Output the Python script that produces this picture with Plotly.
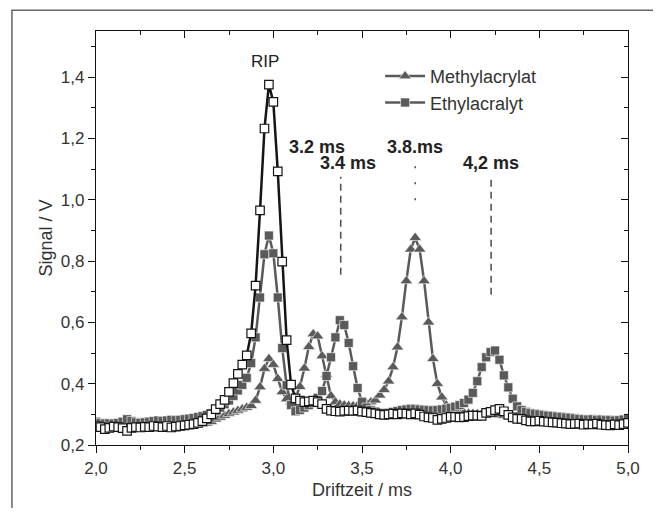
import plotly.graph_objects as go

# ---------------- data ----------------
drift_time = [
    2.000, 2.025, 2.050, 2.075, 2.100, 2.125, 2.150, 2.175, 2.200, 2.225,
    2.250, 2.275, 2.300, 2.325, 2.350, 2.375, 2.400, 2.425, 2.450, 2.475,
    2.500, 2.525, 2.550, 2.575, 2.600, 2.625, 2.650, 2.675, 2.700, 2.725,
    2.750, 2.775, 2.800, 2.825, 2.850, 2.875, 2.900, 2.925, 2.950, 2.975,
    3.000, 3.025, 3.050, 3.075, 3.100, 3.125, 3.150, 3.175, 3.200, 3.225,
    3.250, 3.275, 3.300, 3.325, 3.350, 3.375, 3.400, 3.425, 3.450, 3.475,
    3.500, 3.525, 3.550, 3.575, 3.600, 3.625, 3.650, 3.675, 3.700, 3.725,
    3.750, 3.775, 3.800, 3.825, 3.850, 3.875, 3.900, 3.925, 3.950, 3.975,
    4.000, 4.025, 4.050, 4.075, 4.100, 4.125, 4.150, 4.175, 4.200, 4.225,
    4.250, 4.275, 4.300, 4.325, 4.350, 4.375, 4.400, 4.425, 4.450, 4.475,
    4.500, 4.525, 4.550, 4.575, 4.600, 4.625, 4.650, 4.675, 4.700, 4.725,
    4.750, 4.775, 4.800, 4.825, 4.850, 4.875, 4.900, 4.925, 4.950, 4.975,
    5.000,
]

rip_signal = [
    0.262, 0.258, 0.252, 0.256, 0.260, 0.258, 0.255, 0.246, 0.256, 0.258,
    0.257, 0.259, 0.258, 0.262, 0.260, 0.258, 0.262, 0.257, 0.260, 0.262,
    0.264, 0.266, 0.268, 0.272, 0.278, 0.287, 0.300, 0.317, 0.333, 0.347,
    0.373, 0.402, 0.432, 0.462, 0.492, 0.564, 0.720, 0.965, 1.232, 1.375,
    1.319, 1.092, 0.798, 0.542, 0.397, 0.352, 0.345, 0.340, 0.342, 0.345,
    0.340, 0.333, 0.318, 0.312, 0.310, 0.309, 0.311, 0.312, 0.311, 0.313,
    0.309, 0.307, 0.305, 0.303, 0.300, 0.298, 0.300, 0.302, 0.300, 0.303,
    0.302, 0.300, 0.303, 0.299, 0.293, 0.290, 0.288, 0.282, 0.285, 0.288,
    0.292, 0.292, 0.290, 0.291, 0.294, 0.296, 0.296, 0.295, 0.305, 0.308,
    0.314, 0.318, 0.310, 0.298, 0.290, 0.285, 0.285, 0.280, 0.277, 0.277,
    0.279, 0.276, 0.275, 0.274, 0.273, 0.271, 0.270, 0.268, 0.269, 0.270,
    0.266, 0.268, 0.267, 0.270, 0.266, 0.265, 0.264, 0.267, 0.265, 0.268,
    0.272,
]

methylacrylat = [
    0.262, 0.263, 0.264, 0.263, 0.262, 0.263, 0.264, 0.263, 0.262, 0.263,
    0.262, 0.263, 0.264, 0.263, 0.262, 0.264, 0.265, 0.264, 0.263, 0.264,
    0.265, 0.266, 0.266, 0.267, 0.268, 0.271, 0.276, 0.284, 0.290, 0.296,
    0.302, 0.307, 0.312, 0.317, 0.322, 0.328, 0.345, 0.389, 0.449, 0.481,
    0.462, 0.416, 0.373, 0.350, 0.340, 0.355, 0.390, 0.450, 0.520, 0.562,
    0.555, 0.490, 0.430, 0.360, 0.340, 0.333, 0.330, 0.328, 0.327, 0.328,
    0.330, 0.335, 0.340, 0.346, 0.362, 0.380, 0.408, 0.454, 0.519, 0.617,
    0.735, 0.838, 0.876, 0.838, 0.735, 0.600, 0.481, 0.400, 0.356, 0.330,
    0.318, 0.312, 0.308, 0.305, 0.303, 0.302, 0.301, 0.300, 0.300, 0.300,
    0.299, 0.298, 0.296, 0.294, 0.292, 0.290, 0.289, 0.288, 0.287, 0.286,
    0.285, 0.284, 0.283, 0.282, 0.281, 0.280, 0.280, 0.279, 0.278, 0.278,
    0.277, 0.277, 0.276, 0.276, 0.275, 0.275, 0.275, 0.274, 0.274, 0.274,
    0.275,
]

ethylacralyt = [
    0.276, 0.272, 0.270, 0.271, 0.270, 0.272, 0.276, 0.284, 0.278, 0.274,
    0.272, 0.274, 0.276, 0.278, 0.280, 0.278, 0.280, 0.282, 0.281, 0.282,
    0.284, 0.286, 0.288, 0.291, 0.294, 0.298, 0.303, 0.312, 0.322, 0.333,
    0.345, 0.360, 0.378, 0.396, 0.419, 0.467, 0.551, 0.681, 0.822, 0.883,
    0.825, 0.681, 0.516, 0.395, 0.330, 0.310, 0.314, 0.322, 0.330, 0.338,
    0.354, 0.376, 0.425, 0.486, 0.551, 0.607, 0.591, 0.533, 0.457, 0.386,
    0.341, 0.322, 0.314, 0.309, 0.305, 0.303, 0.305, 0.308, 0.311, 0.314,
    0.316, 0.318, 0.318, 0.316, 0.315, 0.314, 0.313, 0.314, 0.316, 0.318,
    0.321, 0.325, 0.330, 0.337, 0.348, 0.370, 0.408, 0.454, 0.486, 0.503,
    0.508, 0.478, 0.427, 0.388, 0.351, 0.326, 0.314, 0.308, 0.304, 0.302,
    0.300, 0.298, 0.296, 0.295, 0.293, 0.292, 0.290, 0.289, 0.287, 0.285,
    0.284, 0.283, 0.284, 0.282, 0.283, 0.281, 0.282, 0.280, 0.281, 0.283,
    0.287,
]

series_names = ["Methylacrylat", "Ethylacralyt"]

x_tick_vals = [2.0, 2.5, 3.0, 3.5, 4.0, 4.5, 5.0]
x_tick_text = ["2,0", "2,5", "3,0", "3,5", "4,0", "4,5", "5,0"]
y_tick_vals = [0.2, 0.4, 0.6, 0.8, 1.0, 1.2, 1.4]
y_tick_text = ["0,2", "0,4", "0,6", "0,8", "1,0", "1,2", "1,4"]

peak_labels = ["3.2 ms", "3.4 ms", "3.8.ms", "4,2 ms"]
peak_label_x = [3.246, 3.421, 3.799, 4.228]
peak_label_y = [1.172, 1.120, 1.172, 1.120]

marker_line_x = [3.38, 3.80, 4.228]
marker_line_y0 = [0.755, 0.998, 0.690]
marker_line_y1 = [1.075, 1.110, 1.065]
marker_line_dash = ["7px,5px", "2px,14px", "7px,5px"]

x_range = [2.0, 5.0]
y_range = [0.2, 1.55]

# ---------------- figure ----------------
GRAY = "#5a5a5a"
FONT = "Liberation Sans, Arial, sans-serif"

fig = go.Figure()

fig.add_trace(go.Scatter(
    x=drift_time, y=methylacrylat, name=series_names[0],
    mode="lines+markers",
    line=dict(color=GRAY, width=2.5),
    marker=dict(symbol="triangle-up", size=11, color=GRAY,
                line=dict(color="white", width=0.6)),
))
fig.add_trace(go.Scatter(
    x=drift_time, y=ethylacralyt, name=series_names[1],
    mode="lines+markers",
    line=dict(color=GRAY, width=2.5),
    marker=dict(symbol="square", size=9, color=GRAY,
                line=dict(color="white", width=0.6)),
))
fig.add_trace(go.Scatter(
    x=drift_time, y=rip_signal, name="RIP",
    mode="lines+markers", showlegend=False,
    line=dict(color="#151515", width=2.5),
    marker=dict(symbol="square", size=8.5, color="white",
                line=dict(color="#151515", width=1.2)),
))
# helper trace so the mirrored (inward) tick axes get drawn
fig.add_trace(go.Scatter(x=[None], y=[None], xaxis="x2", yaxis="y2",
                         showlegend=False, hoverinfo="skip"))

for i, txt in enumerate(peak_labels):
    fig.add_annotation(x=peak_label_x[i], y=peak_label_y[i], text=txt,
                       showarrow=False, xref="x", yref="y",
                       font=dict(family=FONT, size=18, color="#222222",
                                 weight="bold"))
fig.add_annotation(x=2.953, y=1.450, text="RIP", showarrow=False,
                   font=dict(family=FONT, size=17, color="#222222"))

for i in range(len(marker_line_x)):
    fig.add_shape(type="line", xref="x", yref="y",
                  x0=marker_line_x[i], x1=marker_line_x[i],
                  y0=marker_line_y0[i], y1=marker_line_y1[i],
                  line=dict(color="#555555", width=1.6,
                            dash=marker_line_dash[i]))

# outer frame around the whole figure
fig.add_shape(type="rect", xref="paper", yref="paper",
              x0=-0.158, x1=1.0526, y0=-0.3, y1=1.05,
              line=dict(color="#666666", width=1.5), layer="below")

axis_common = dict(showgrid=False, zeroline=False, showline=True,
                   linecolor="#111111", linewidth=1.4, mirror=True,
                   ticks="outside", ticklen=7, tickwidth=1.2,
                   tickcolor="#111111",
                   tickfont=dict(family=FONT, size=17, color="#333333"))

fig.update_layout(
    width=650, height=500,
    margin=dict(l=88, r=30, t=23, b=61),
    paper_bgcolor="white", plot_bgcolor="white",
    font=dict(family=FONT, color="#333333"),
    xaxis=dict(range=x_range, tickvals=x_tick_vals, ticktext=x_tick_text,
               minor=dict(dtick=0.25, ticks="outside", ticklen=4,
                          tickcolor="#111111", tickwidth=1.2),
               title=dict(text="Driftzeit / ms", standoff=6,
                          font=dict(family=FONT, size=18, color="#333333")),
               **axis_common),
    yaxis=dict(range=y_range, tickvals=y_tick_vals, ticktext=y_tick_text,
               minor=dict(dtick=0.1, tick0=0.2, ticks="outside", ticklen=4,
                          tickcolor="#111111", tickwidth=1.2),
               title=dict(text="Signal / V", standoff=3,
                          font=dict(family=FONT, size=18, color="#333333")),
               **axis_common),
    xaxis2=dict(range=x_range, overlaying="x", side="top", anchor="y",
                showline=False, showgrid=False, zeroline=False,
                tickvals=x_tick_vals, showticklabels=False,
                ticks="inside", ticklen=7, tickwidth=1.2, tickcolor="#111111",
                minor=dict(dtick=0.25, ticks="inside", ticklen=4,
                           tickcolor="#111111", tickwidth=1.2)),
    yaxis2=dict(range=y_range, overlaying="y", side="right", anchor="x",
                showline=False, showgrid=False, zeroline=False,
                tickvals=y_tick_vals, showticklabels=False,
                ticks="inside", ticklen=7, tickwidth=1.2, tickcolor="#111111",
                minor=dict(dtick=0.1, tick0=0.2, ticks="inside", ticklen=4,
                           tickcolor="#111111", tickwidth=1.2)),
    legend=dict(x=0.534, y=0.935, xanchor="left", yanchor="top",
                bgcolor="rgba(0,0,0,0)", borderwidth=0,
                font=dict(family=FONT, size=18, color="#333333"),
                itemwidth=40, tracegroupgap=2),
    showlegend=True,
)

fig.write_html("out.html")
